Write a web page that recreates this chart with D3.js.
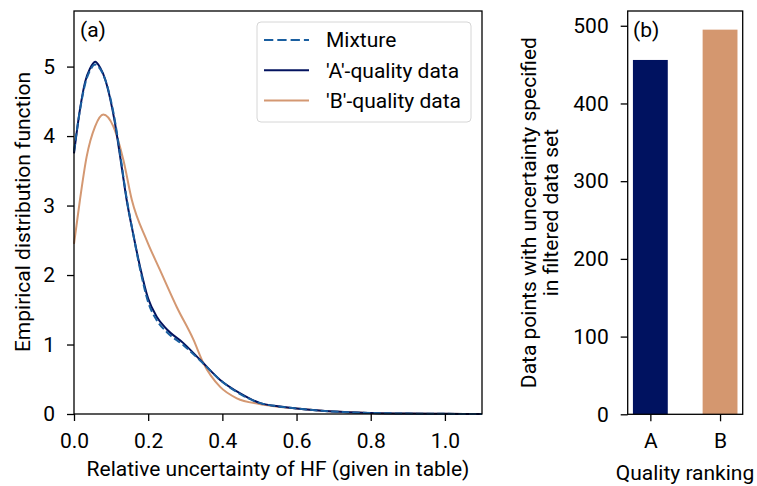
<!DOCTYPE html>
<html>
<head>
<meta charset="utf-8">
<script src="https://cdn.jsdelivr.net/npm/d3@7"></script>
<style>
  body { margin: 0; background: #fff; }
  text { font-family: Roboto, "DejaVu Sans", sans-serif; }
</style>
</head>
<body>
<div id="body"></div>
<script>
// 'A'-quality kde
var aX = [0, 0.016, 0.030, 0.043, 0.057, 0.070, 0.085, 0.097, 0.110, 0.124, 0.142, 0.160, 0.178, 0.200, 0.223, 0.250, 0.295, 0.340, 0.394, 0.447, 0.500, 0.550, 0.600, 0.700, 0.800, 0.900, 1.000, 1.100];
var aY = [3.75, 4.38, 4.78, 4.97, 5.07, 4.99, 4.80, 4.55, 4.20, 3.72, 3.08, 2.58, 2.12, 1.66, 1.40, 1.22, 1.02, 0.78, 0.49, 0.30, 0.16, 0.11, 0.08, 0.035, 0.015, 0.006, 0.002, 0.001];
// mixture fit
var mixX = [0, 0.016, 0.030, 0.043, 0.057, 0.070, 0.085, 0.097, 0.110, 0.124, 0.142, 0.160, 0.178, 0.200, 0.223, 0.250, 0.295, 0.340, 0.394, 0.447, 0.500, 0.550, 0.600, 0.700, 0.800, 0.900, 1.000, 1.100];
var mixY = [3.78, 4.37, 4.75, 4.94, 5.03, 4.97, 4.80, 4.57, 4.23, 3.75, 3.10, 2.58, 2.09, 1.61, 1.35, 1.18, 0.99, 0.77, 0.49, 0.29, 0.16, 0.11, 0.08, 0.035, 0.015, 0.006, 0.002, 0.001];
// 'B'-quality kde
var bX = [0, 0.016, 0.034, 0.057, 0.079, 0.106, 0.133, 0.156, 0.196, 0.232, 0.277, 0.322, 0.349, 0.394, 0.439, 0.500, 0.550, 0.600, 0.700, 0.800, 0.900, 1.000, 1.100];
var bY = [2.45, 3.08, 3.70, 4.14, 4.31, 4.14, 3.66, 3.08, 2.50, 2.07, 1.54, 1.07, 0.73, 0.39, 0.226, 0.144, 0.105, 0.08, 0.035, 0.015, 0.006, 0.002, 0.001];

var xTicks = [0, 0.2, 0.4, 0.6, 0.8, 1.0];
var yTicks = [0, 1, 2, 3, 4, 5];

var qualities = ["A", "B"];
var counts = [456, 495];
var barTicks = [0, 100, 200, 300, 400, 500];

var width = 757;
var height = 486;
var fontSize = 21;

var navy = "#03135f";
var tan = "#d49872";
var mixColor = "#1a5fa0";

var svg = d3.select("#body").append("svg")
  .attr("width", width)
  .attr("height", height);

// ---------------- panel (a) ----------------
var xScale = d3.scaleLinear().domain([0, 1.1]).range([74, 482]);
var yScale = d3.scaleLinear().domain([0, 5.8]).range([414, 11]);

function series(xs, ys) {
  return xs.map(function (x, i) { return [x, ys[i]]; });
}

var line = d3.line()
  .x(function (d) { return xScale(d[0]); })
  .y(function (d) { return yScale(d[1]); })
  .curve(d3.curveMonotoneX);

var gA = svg.append("g");

gA.append("path")
  .attr("d", line(series(bX, bY)))
  .attr("fill", "none")
  .attr("stroke", tan)
  .attr("stroke-width", 2);

gA.append("path")
  .attr("d", line(series(aX, aY)))
  .attr("fill", "none")
  .attr("stroke", navy)
  .attr("stroke-width", 2);

gA.append("path")
  .attr("d", line(series(mixX, mixY)))
  .attr("fill", "none")
  .attr("stroke", mixColor)
  .attr("stroke-width", 2)
  .attr("stroke-dasharray", "7.4,3.2");

gA.append("g")
  .attr("transform", "translate(0,414)")
  .call(d3.axisBottom(xScale).tickValues(xTicks).tickFormat(d3.format(".1f")).tickSizeOuter(0).tickSize(7).tickPadding(12));

gA.append("g")
  .attr("transform", "translate(74,0)")
  .call(d3.axisLeft(yScale).tickValues(yTicks).tickFormat(d3.format("d")).tickSizeOuter(0).tickSize(7).tickPadding(12));

// frame
gA.append("rect")
  .attr("x", 74).attr("y", 11)
  .attr("width", 408).attr("height", 403)
  .attr("fill", "none")
  .attr("stroke", "#000")
  .attr("stroke-width", 1.3);

gA.append("text")
  .attr("x", 80).attr("y", 37)
  .attr("font-size", fontSize)
  .text("(a)");

gA.append("text")
  .attr("x", 278).attr("y", 476)
  .attr("text-anchor", "middle")
  .attr("font-size", fontSize)
  .text("Relative uncertainty of HF (given in table)");

gA.append("text")
  .attr("transform", "translate(30,212) rotate(-90)")
  .attr("text-anchor", "middle")
  .attr("font-size", fontSize)
  .text("Empirical distribution function");

// legend
var legend = gA.append("g");
legend.append("rect")
  .attr("x", 257).attr("y", 22)
  .attr("width", 214).attr("height", 100)
  .attr("rx", 4)
  .attr("fill", "#fff")
  .attr("fill-opacity", 0.8)
  .attr("stroke", "#d6d6d6")
  .attr("stroke-width", 1);

var legendItems = [
  { label: "Mixture", color: mixColor, dash: "9.3,4" },
  { label: "'A'-quality data", color: navy, dash: null },
  { label: "'B'-quality data", color: tan, dash: null }
];

legendItems.forEach(function (d, i) {
  var y = 40 + i * 30.3;
  legend.append("line")
    .attr("x1", 264).attr("x2", 309)
    .attr("y1", y).attr("y2", y)
    .attr("stroke", d.color)
    .attr("stroke-width", 2)
    .attr("stroke-dasharray", d.dash);
  legend.append("text")
    .attr("x", 326).attr("y", y)
    .attr("dy", "0.35em")
    .attr("font-size", fontSize)
    .text(d.label);
});

// ---------------- panel (b) ----------------
var xBar = d3.scaleLinear().domain([-0.325, 1.325]).range([627.7, 742.7]);
var yBar = d3.scaleLinear().domain([0, 519]).range([414.3, 11]);

var gB = svg.append("g");

gB.selectAll("rect.bar")
  .data(qualities)
  .enter()
  .append("rect")
  .attr("class", "bar")
  .attr("x", function (d, i) { return xBar(i - 0.25); })
  .attr("width", function () { return xBar(0.25) - xBar(-0.25); })
  .attr("y", function (d, i) { return yBar(counts[i]); })
  .attr("height", function (d, i) { return yBar(0) - yBar(counts[i]); })
  .attr("fill", function (d, i) { return i === 0 ? "#001260" : "#d4976f"; });

gB.append("g")
  .attr("transform", "translate(0,414.3)")
  .call(d3.axisBottom(xBar).tickValues([0, 1]).tickFormat(function (d) { return qualities[d]; }).tickSizeOuter(0).tickSize(7).tickPadding(12));

gB.append("g")
  .attr("transform", "translate(627.7,0)")
  .call(d3.axisLeft(yBar).tickValues(barTicks).tickFormat(d3.format("d")).tickSizeOuter(0).tickSize(7).tickPadding(12));

gB.append("rect")
  .attr("x", 627.7).attr("y", 11)
  .attr("width", 115).attr("height", 403.3)
  .attr("fill", "none")
  .attr("stroke", "#000")
  .attr("stroke-width", 1.3);

gB.append("text")
  .attr("x", 633).attr("y", 37)
  .attr("font-size", fontSize)
  .text("(b)");

gB.append("text")
  .attr("x", 685).attr("y", 480)
  .attr("text-anchor", "middle")
  .attr("font-size", fontSize)
  .text("Quality ranking");

var yLab = gB.append("text")
  .attr("transform", "translate(536,212.6) rotate(-90)")
  .attr("text-anchor", "middle")
  .attr("font-size", fontSize);
yLab.append("tspan").attr("x", 0).attr("dy", 0).text("Data points with uncertainty specified");
yLab.append("tspan").attr("x", 0).attr("dy", 22).text("in filtered data set");

// axis styling
svg.selectAll(".domain").remove();
svg.selectAll(".tick line").attr("stroke", "#000").attr("stroke-width", 1.3);
svg.selectAll(".tick text")
  .attr("font-size", fontSize)
  .attr("fill", "#000")
  .style("font-family", "Roboto, sans-serif");
</script>
</body>
</html>
